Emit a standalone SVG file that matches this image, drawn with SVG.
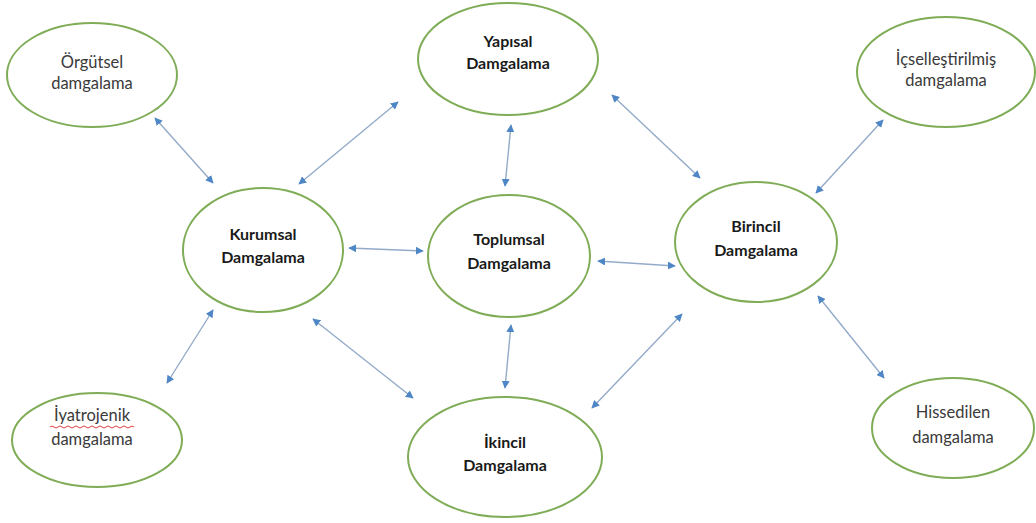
<svg xmlns="http://www.w3.org/2000/svg" width="1036" height="523" viewBox="0 0 1036 523">
<style>
.n ellipse{fill:#fff;stroke:#7fac56;stroke-width:2}
.t{font-family:Lato,"Open Sans","Liberation Sans",sans-serif;font-size:16.5px;fill:#3a3a3a;text-anchor:middle}
.b{font-weight:bold;fill:#1a1a1a;font-size:16px}
#connectors line{stroke:#93abc9;stroke-width:1.4;marker-start:url(#ah);marker-end:url(#ah)}
</style>
<defs>
<marker id="ah" viewBox="0 0 10 10" refX="9" refY="5" markerWidth="8" markerHeight="8" markerUnits="userSpaceOnUse" orient="auto-start-reverse">
<path d="M0,0 L10,5 L0,10 z" fill="#4f86c6"/>
</marker>
</defs>
<rect width="1036" height="523" fill="#fff"/>
<g id="connectors">
<line x1="155" y1="118" x2="213" y2="183"/>
<line x1="299" y1="184" x2="398" y2="102"/>
<line x1="511" y1="125" x2="505" y2="186"/>
<line x1="612" y1="95" x2="700" y2="178"/>
<line x1="816" y1="193" x2="883" y2="120"/>
<line x1="349" y1="248" x2="423" y2="251"/>
<line x1="598" y1="261" x2="675" y2="266"/>
<line x1="213" y1="310" x2="167" y2="383"/>
<line x1="313" y1="319" x2="413" y2="398"/>
<line x1="511" y1="325" x2="505" y2="388"/>
<line x1="592" y1="408" x2="682" y2="314"/>
<line x1="818" y1="296" x2="884" y2="378"/>
</g>
<g id="orgutsel" class="n"><ellipse cx="92" cy="75" rx="85" ry="52"/><text class="t" x="92" y="68">Örgütsel</text><text class="t" x="92" y="89">damgalama</text></g>
<g id="yapisal" class="n"><ellipse cx="508" cy="59" rx="90" ry="56"/><text class="t b" x="508" y="47">Yapısal</text><text class="t b" x="508" y="69">Damgalama</text></g>
<g id="icsellestirilmis" class="n"><ellipse cx="946" cy="72" rx="89" ry="55"/><text class="t" x="946" y="65">İçselleştirilmiş</text><text class="t" x="946" y="86">damgalama</text></g>
<g id="kurumsal" class="n"><ellipse cx="263" cy="250" rx="80" ry="62"/><text class="t b" x="263" y="240">Kurumsal</text><text class="t b" x="263" y="263">Damgalama</text></g>
<g id="toplumsal" class="n"><ellipse cx="509" cy="256" rx="81" ry="61"/><text class="t b" x="509" y="245">Toplumsal</text><text class="t b" x="509" y="269">Damgalama</text></g>
<g id="birincil" class="n"><ellipse cx="756" cy="242" rx="81" ry="60"/><text class="t b" x="756" y="232">Birincil</text><text class="t b" x="756" y="256">Damgalama</text></g>
<g id="iyatrojenik" class="n"><ellipse cx="97" cy="440" rx="85" ry="47"/><text class="t" x="92" y="421">İyatrojenik</text><path d="M50,427 q2,-2 4,0 t4,0 t4,0 t4,0 t4,0 t4,0 t4,0 t4,0 t4,0 t4,0 t4,0 t4,0 t4,0 t4,0 t4,0 t4,0 t4,0 t4,0 t4,0 t4,0 t4,0" fill="none" stroke="#e04040" stroke-width="1"/><text class="t" x="92" y="445">damgalama</text></g>
<g id="ikincil" class="n"><ellipse cx="505" cy="457" rx="97" ry="60"/><text class="t b" x="505" y="448">İkincil</text><text class="t b" x="505" y="471">Damgalama</text></g>
<g id="hissedilen" class="n"><ellipse cx="953" cy="428" rx="81" ry="50"/><text class="t" x="953" y="418">Hissedilen</text><text class="t" x="953" y="443">damgalama</text></g>
</svg>
